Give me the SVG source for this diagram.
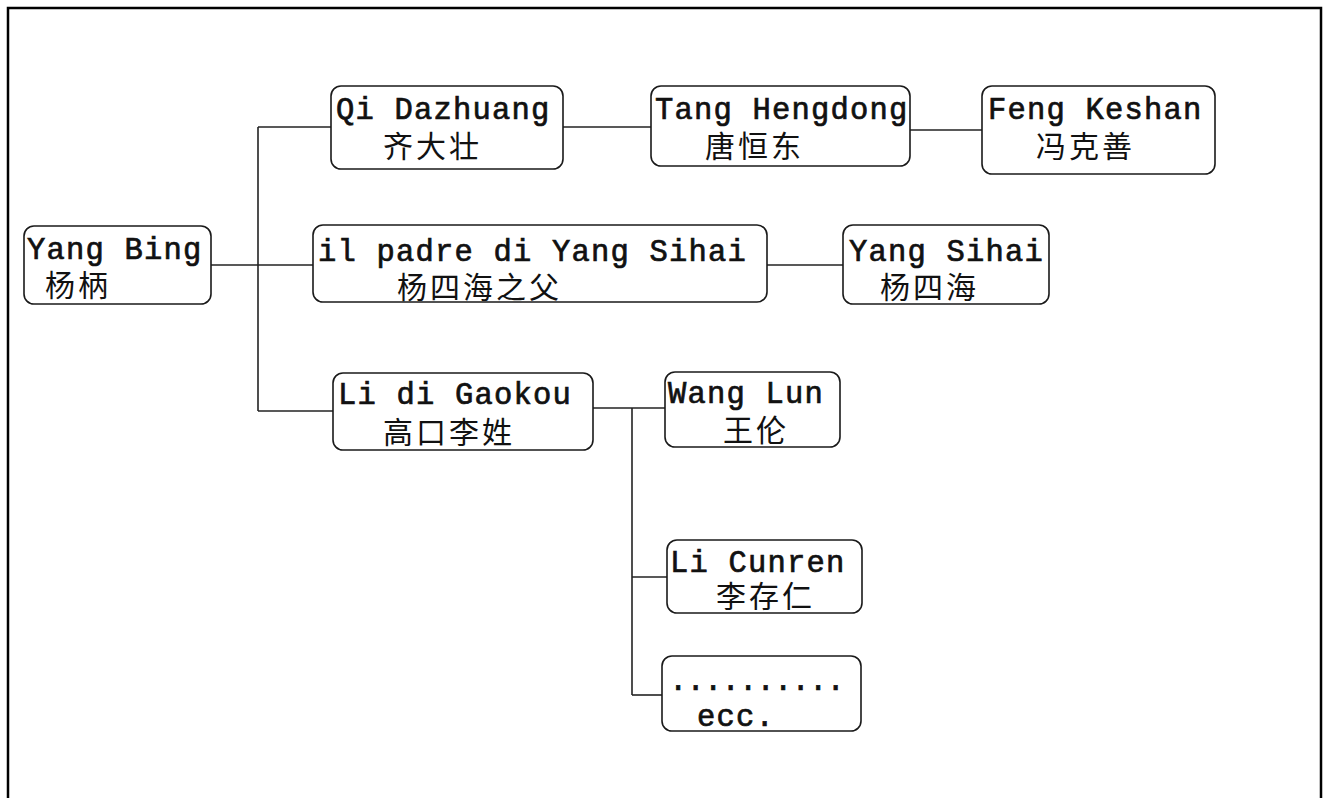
<svg xmlns="http://www.w3.org/2000/svg" width="1323" height="798" viewBox="0 0 1323 798">
<style>
.box{fill:#fff;stroke:#1a1a1a;stroke-width:1.6}
.lat{font-family:"Liberation Mono","DejaVu Sans Mono",monospace;font-size:30.5px;letter-spacing:1.2px;font-weight:normal;fill:#111;stroke:#111;stroke-width:0.7}
.cjk{font-family:"Noto Sans CJK SC","Noto Sans CJK TC",sans-serif;font-size:30px;fill:#111;letter-spacing:3px}
.con{stroke:#222;stroke-width:1.6;fill:none}
</style>
<rect x="0" y="0" width="1323" height="798" fill="#fff"/>
<rect x="8" y="8" width="1313" height="800" fill="none" stroke="#000" stroke-width="2.5"/>
<g id="connectors" class="con">
<path d="M258 127V411"/>
<path d="M258 127H331"/>
<path d="M210 265H313"/>
<path d="M258 411H333"/>
<path d="M563 127H651"/>
<path d="M910 130H982"/>
<path d="M767 265H843"/>
<path d="M593 408H665"/>
<path d="M632 408V695"/>
<path d="M632 577H667"/>
<path d="M632 695H662"/>
</g>
<g id="yang-bing"><rect class="box" x="24" y="226" width="187" height="78" rx="10"/><text class="lat" x="27" y="259">Yang Bing</text><text class="cjk" x="45" y="296">杨柄</text></g>
<g id="qi-dazhuang"><rect class="box" x="331" y="86" width="232" height="83" rx="10"/><text class="lat" x="336" y="119">Qi Dazhuang</text><text class="cjk" x="383" y="157">齐大壮</text></g>
<g id="tang-hengdong"><rect class="box" x="651" y="86" width="259" height="80" rx="10"/><text class="lat" x="655" y="119">Tang Hengdong</text><text class="cjk" x="705" y="157">唐恒东</text></g>
<g id="feng-keshan"><rect class="box" x="982" y="86" width="233" height="88" rx="10"/><text class="lat" x="988" y="119">Feng Keshan</text><text class="cjk" x="1036" y="157">冯克善</text></g>
<g id="padre"><rect class="box" x="313" y="225" width="454" height="77" rx="10"/><text class="lat" x="318" y="261">il padre di Yang Sihai</text><text class="cjk" x="397" y="298">杨四海之父</text></g>
<g id="yang-sihai"><rect class="box" x="843" y="225" width="206" height="79" rx="10"/><text class="lat" x="849" y="261">Yang Sihai</text><text class="cjk" x="880" y="298">杨四海</text></g>
<g id="li-gaokou"><rect class="box" x="333" y="373" width="260" height="77" rx="10"/><text class="lat" x="338" y="404">Li di Gaokou</text><text class="cjk" x="383" y="443">高口李姓</text></g>
<g id="wang-lun"><rect class="box" x="665" y="372" width="175" height="75" rx="10"/><text class="lat" x="668" y="403">Wang Lun</text><text class="cjk" x="723" y="441">王伦</text></g>
<g id="li-cunren"><rect class="box" x="667" y="540" width="195" height="73" rx="10"/><text class="lat" x="670" y="572">Li Cunren</text><text class="cjk" x="716" y="607">李存仁</text></g>
<g id="ecc"><rect class="box" x="662" y="656" width="199" height="75" rx="10"/><text class="lat" x="669" y="690" textLength="177" lengthAdjust="spacing">..........</text><text class="lat" x="697" y="726">ecc.</text></g>
</svg>
